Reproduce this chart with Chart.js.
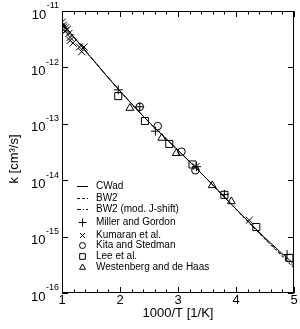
<!DOCTYPE html>
<html>
<head>
<meta charset="utf-8">
<script src="https://cdn.jsdelivr.net/npm/chart.js@4/dist/chart.umd.min.js"></script>
<style>
  html, body { margin: 0; padding: 0; background: #fff; }
  canvas { display: block; }
</style>
</head>
<body>
<canvas id="rateChart" width="300" height="329"></canvas>
<script>
// ------------------------------------------------------------
//  DATA  (x = 1000/T in 1/K, k in cm^3/s)
// ------------------------------------------------------------
const curveX   = [1, 1.5, 2, 2.5, 3, 3.5, 4, 4.5, 5];
const cwadK    = [6.2e-12, 1.5e-12, 3.8e-13, 1.07e-13, 3.4e-14, 1.05e-14, 3.1e-15, 9.5e-16, 3.25e-16];
const bw2K     = [6.2e-12, 1.5e-12, 3.8e-13, 1.07e-13, 3.4e-14, 1.04e-14, 3.05e-15, 9.0e-16, 2.75e-16];
const bw2ModK  = [6.2e-12, 1.5e-12, 3.8e-13, 1.07e-13, 3.4e-14, 1.05e-14, 3.08e-15, 9.2e-16, 2.95e-16];

const millerX  = [1.97, 2.34, 2.61, 3.32, 3.80, 4.88];
const millerK  = [4.0e-13, 2.0e-13, 7.4e-14, 1.74e-14, 5.6e-15, 4.8e-16];

const kumaranX = [1.00, 1.02, 1.03, 1.06, 1.09, 1.05, 1.12, 1.14, 1.14, 1.19, 1.30, 1.38, 1.34, 3.31, 4.23];
const kumaranK = [6.3e-12, 5.6e-12, 5.2e-12, 5.0e-12, 4.7e-12, 4.4e-12, 4.0e-12, 3.4e-12, 3.0e-12, 2.7e-12, 2.3e-12, 2.3e-12, 1.9e-12, 1.74e-14, 1.95e-15];

const kitaX    = [2.34, 2.65, 3.06, 3.30];
const kitaK    = [2.0e-13, 9.1e-14, 3.2e-14, 1.5e-14];

const leeX     = [1.97, 2.43, 2.85, 3.25, 3.80, 4.35, 4.92];
const leeK     = [3.1e-13, 1.12e-13, 4.4e-14, 1.9e-14, 5.5e-15, 1.48e-15, 4.2e-16];

const westX    = [2.17, 2.72, 2.97, 3.59, 3.92];
const westK    = [1.9e-13, 5.6e-14, 3.0e-14, 8.1e-15, 4.2e-15];

const xTickLabels = [1, 2, 3, 4, 5];
const yTickExps   = [-11, -12, -13, -14, -15, -16];

const FONT = '"Liberation Sans", Arial, Helvetica, sans-serif';

const pairs = (xs, ys) => xs.map((x, i) => ({ x: x, y: ys[i] }));

// ------------------------------------------------------------
//  DATASETS
// ------------------------------------------------------------
function curve(label, ys, dash) {
    return {
        label: label,
        data: pairs(curveX, ys),
        showLine: true,
        borderColor: "#000",
        borderWidth: 1,
        borderDash: dash,
        pointRadius: 0,
        cubicInterpolationMode: "monotone",
        legendStyle: "line"
    };
}

function markers(label, xs, ys, style, r, legendR) {
    return {
        label: label,
        data: pairs(xs, ys),
        showLine: false,
        pointStyle: style,
        pointRadius: r,
        pointBorderColor: "#000",
        pointBackgroundColor: "rgba(0,0,0,0)",
        pointBorderWidth: 1,
        borderColor: "#000",
        backgroundColor: "rgba(0,0,0,0)",
        legendStyle: "point",
        legendRadius: legendR
    };
}

const datasets = [
    curve("CWad", cwadK, []),
    curve("BW2", bw2K, [3, 2]),
    curve("BW2 (mod. J-shift)", bw2ModK, [4, 2, 1, 2]),
    markers("Miller and Gordon", millerX, millerK, "cross", 4.5, 4),
    markers("Kumaran et al.", kumaranX, kumaranK, "crossRot", 5, 3.5),
    markers("Kita and Stedman", kitaX, kitaK, "circle", 3.8, 3),
    markers("Lee et al.", leeX, leeK, "rect", 5, 4),
    markers("Westenberg and de Haas", westX, westK, "triangle", 4.5, 3.5)
];

// ------------------------------------------------------------
//  FRAME, TICKS, LABELS, LEGEND
// ------------------------------------------------------------
const axesPlugin = {
    id: "axesPlugin",
    afterDraw(chart) {
        const ctx = chart.ctx;
        const a = chart.chartArea;
        const xs = chart.scales.x;
        const ys = chart.scales.y;

        ctx.save();
        ctx.strokeStyle = "#000";
        ctx.lineWidth = 1;
        ctx.setLineDash([]);
        ctx.strokeRect(a.left + 0.5, a.top + 0.5, a.right - a.left - 1, a.bottom - a.top - 1);

        // x ticks, top and bottom, pointing inward
        ctx.beginPath();
        for (let i = 0; i <= 20; i++) {
            const v = 1 + i * 0.2;
            const px = Math.round(xs.getPixelForValue(v)) + 0.5;
            const len = (i % 5 === 0) ? 6 : 3.5;
            ctx.moveTo(px, a.bottom);
            ctx.lineTo(px, a.bottom - len);
            ctx.moveTo(px, a.top);
            ctx.lineTo(px, a.top + len);
        }
        // y ticks, decades only
        yTickExps.forEach(e => {
            const py = Math.round(ys.getPixelForValue(Math.pow(10, e))) + 0.5;
            ctx.moveTo(a.left, py);
            ctx.lineTo(a.left + 6, py);
            ctx.moveTo(a.right, py);
            ctx.lineTo(a.right - 6, py);
        });
        ctx.stroke();

        // x tick labels
        ctx.fillStyle = "#000";
        ctx.font = "13px " + FONT;
        ctx.textAlign = "center";
        ctx.textBaseline = "top";
        xTickLabels.forEach(v => {
            ctx.fillText(String(v), xs.getPixelForValue(v), a.bottom + 1);
        });

        // y tick labels 10^e
        yTickExps.forEach(e => {
            const py = ys.getPixelForValue(Math.pow(10, e));
            ctx.font = "9px " + FONT;
            const sup = String(e);
            const supW = ctx.measureText(sup).width;
            const right = a.left - 3;
            ctx.textAlign = "left";
            ctx.textBaseline = "middle";
            ctx.fillText(sup, right - supW, py - 5);
            ctx.font = "13px " + FONT;
            ctx.textAlign = "right";
            ctx.fillText("10", right - supW - 0.5, py + 4);
        });

        // axis titles
        ctx.font = "13px " + FONT;
        ctx.textAlign = "center";
        ctx.textBaseline = "middle";
        ctx.fillText("1000/T [1/K]", (a.left + a.right) / 2, 313);

        ctx.save();
        ctx.translate(14, 159);
        ctx.rotate(-Math.PI / 2);
        ctx.fillText("k [cm\u00B3/s]", 0, 0);
        ctx.restore();

        // legend
        const legendY = [186, 198, 209, 222, 235, 245, 256, 267];
        ctx.font = "10px " + FONT;
        ctx.textAlign = "left";
        ctx.textBaseline = "middle";
        datasets.forEach((ds, i) => {
            const y = legendY[i];
            if (ds.legendStyle === "line") {
                ctx.save();
                ctx.setLineDash(ds.borderDash);
                ctx.beginPath();
                ctx.moveTo(77, y + 0.5);
                ctx.lineTo(88, y + 0.5);
                ctx.stroke();
                ctx.restore();
            } else if (Chart.helpers && Chart.helpers.drawPoint) {
                ctx.save();
                ctx.strokeStyle = "#000";
                ctx.fillStyle = "rgba(0,0,0,0)";
                ctx.lineWidth = 1;
                Chart.helpers.drawPoint(ctx, {
                    pointStyle: ds.pointStyle,
                    radius: ds.legendRadius,
                    rotation: 0,
                    borderWidth: 1
                }, 82.5, y + 0.5);
                ctx.restore();
            }
            ctx.fillStyle = "#000";
            ctx.fillText(ds.label, 96, y);
        });
        ctx.restore();
    }
};

// ------------------------------------------------------------
//  CHART
// ------------------------------------------------------------
new Chart(document.getElementById("rateChart"), {
    type: "scatter",
    data: { datasets: datasets },
    options: {
        responsive: false,
        animation: false,
        layout: { padding: { left: 62, right: 5, top: 11, bottom: 36 } },
        plugins: { legend: { display: false }, tooltip: { enabled: false } },
        scales: {
            x: { type: "linear", min: 1, max: 5, display: false },
            y: { type: "logarithmic", min: 1e-16, max: 1e-11, display: false }
        }
    },
    plugins: [axesPlugin]
});
</script>
</body>
</html>
